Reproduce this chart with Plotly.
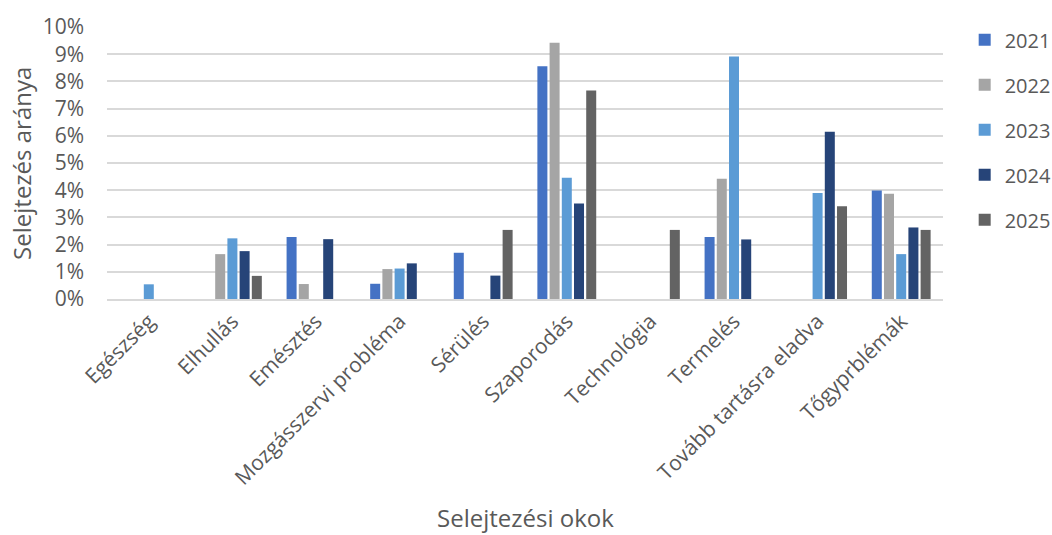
import plotly.graph_objects as go

categories = ["Egészség", "Elhullás", "Emésztés", "Mozgásszervi probléma", "Sérülés",
              "Szaporodás", "Technológia", "Termelés", "Tovább tartásra eladva", "Tőgyprblémák"]
years = ["2021", "2022", "2023", "2024", "2025"]
v2021 = [None, None, 0.0228, 0.0056, 0.0170, 0.0856, None, 0.0228, None, 0.0399]
v2022 = [None, 0.0165, 0.0055, 0.0110, None, 0.0942, None, 0.0442, None, 0.0387]
v2023 = [0.0054, 0.0223, None, 0.0112, None, 0.0446, None, 0.0892, 0.0390, 0.0165]
v2024 = [None, 0.0176, 0.0220, 0.0131, 0.0086, 0.0351, None, 0.0219, 0.0615, 0.0263]
v2025 = [None, 0.0085, None, None, 0.0254, 0.0767, 0.0254, None, 0.0341, 0.0254]
series = [v2021, v2022, v2023, v2024, v2025]
colors = ["#4472C4", "#A5A5A5", "#5B9BD5", "#264478", "#636363"]

font = "Open Sans"
txt = "#595959"

fig = go.Figure()
for y, vals, c in zip(years, series, colors):
    fig.add_trace(go.Bar(x=categories, y=vals, name=y, marker_color=c,
                         marker_line_width=0, legendgroup=y))

fig.update_layout(
    width=1052, height=535,
    margin=dict(l=107, r=109, t=21, b=236),
    plot_bgcolor="white", paper_bgcolor="white",
    barmode="group", bargap=0.27, bargroupgap=0.18,
    font=dict(family=font, color=txt, size=20),
    legend=dict(xref="container", yref="container", x=0.917, y=0.962,
                xanchor="left", yanchor="top",
                font=dict(size=20, color=txt), traceorder="grouped",
                tracegroupgap=16, itemwidth=30),
    showlegend=True,
)
fig.update_yaxes(range=[0, 0.10], dtick=0.01, tickformat=".0%",
                 showgrid=True, gridcolor="#D9D9D9", gridwidth=1.5,
                 zeroline=False, tickfont=dict(size=21, color=txt),
                 ticks="", ticklabelstandoff=22)
fig.update_xaxes(tickangle=-45, tickfont=dict(size=21, color=txt),
                 showline=True, linecolor="#D9D9D9", linewidth=1.5, ticks="")
fig.add_annotation(text="Selejtezés aránya", xref="paper", yref="paper",
                   x=-0.103, y=0.5, xanchor="center", yanchor="middle",
                   textangle=-90, showarrow=False,
                   font=dict(size=24, color=txt))
fig.add_annotation(text="Selejtezési okok", xref="paper", yref="paper",
                   x=0.5, y=-0.805, xanchor="center", yanchor="middle",
                   showarrow=False, font=dict(size=24, color=txt))
fig.write_html("out.html")
